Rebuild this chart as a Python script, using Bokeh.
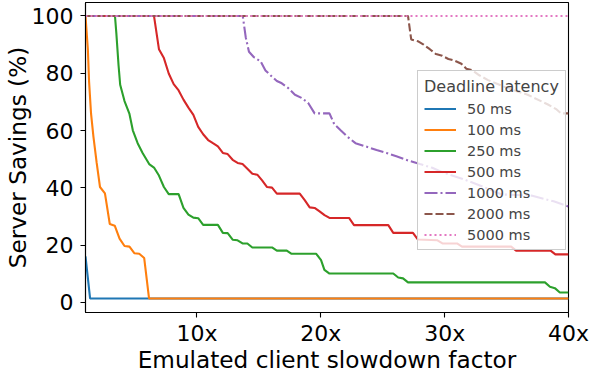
from bokeh.plotting import figure
from bokeh.models import Range1d, FixedTicker, Legend, LegendItem
from bokeh.embed import file_html
from bokeh.resources import INLINE

# ---- data ----
labels = ["50 ms", "100 ms", "250 ms", "500 ms", "1000 ms", "2000 ms", "5000 ms"]

x_50 = [1.0, 1.37, 40.0]
y_50 = [16.1, 1.4, 1.4]

x_100 = [1.0, 1.19, 1.29, 1.45, 1.64, 1.9, 2.17, 2.57, 2.96, 3.36, 3.75, 4.15, 4.55, 4.94, 5.34, 5.74, 6.13, 40.0]
y_100 = [100, 88.4, 77, 65.8, 57.9, 48.8, 40.3, 38.1, 27.4, 26.8, 22.3, 19.7, 19.5, 17.2, 17.0, 15.5, 1.4, 1.4]

x_250 = [1.0, 3.38, 3.49, 3.67, 3.8, 4.15, 4.55, 4.82, 5.21, 5.61, 6.14, 6.53, 6.93, 7.33, 7.72, 8.52, 8.91, 9.31,
         9.71, 10.1, 10.5, 11.69, 12.09, 12.48, 12.88, 13.28, 13.68, 14.07, 14.47, 16.06, 16.45, 17.25, 17.64,
         19.63, 20.02, 20.29, 20.7, 25.85, 26.25, 26.64, 27.04, 38.1, 38.5, 38.9, 39.3, 40.0]
y_250 = [100, 100, 94, 82.7, 76, 70.3, 65.8, 60.1, 55.6, 52.2, 48.3, 47.1, 44.3, 40.3, 37.8, 37.8, 33.0, 30.7,
         29.6, 29.4, 27.1, 27.1, 24.3, 24.2, 21.9, 21.7, 20.6, 20.6, 19.2, 19.2, 18.1, 18.1, 17.0,
         17.0, 14.8, 11.4, 10.1, 10.1, 8.7, 8.4, 7.0, 7.0, 5.5, 5.0, 3.5, 3.5]

x_500 = [1.0, 6.53, 6.93, 7.33, 7.72, 8.12, 8.52, 8.91, 9.31, 9.71, 10.1, 10.5, 10.9, 11.29, 11.69, 12.09, 12.48,
         12.88, 13.28, 13.68, 14.07, 14.47, 14.87, 15.26, 15.66, 16.06, 16.45, 18.3, 18.7, 19.1, 19.5, 19.9, 20.3,
         20.7, 22.28, 22.68, 25.45, 25.85, 27.44, 27.83, 29.42, 29.82, 31.0, 31.4, 35.37, 35.77, 38.55, 38.94, 40.0]
y_500 = [100, 100, 88.4, 85.3, 79.9, 76.2, 74.0, 70.8, 68.0, 65.5, 61.3, 58.7, 56.7, 55.6, 54.5, 52.2, 51.8,
         49.8, 48.7, 48.3, 46.7, 44.9, 44.6, 42.6, 40.3, 40.1, 38.0, 38.0, 35.7, 33.2, 33.0, 31.8, 30.5,
         29.5, 29.5, 27.0, 27.0, 24.3, 24.3, 22.0, 21.7, 20.6, 20.6, 19.5, 19.5, 18.1, 18.1, 16.8, 16.8]

x_1000 = [1.0, 13.7, 13.94, 14.2, 14.6, 15.13, 15.53, 16.06, 16.45, 16.85, 17.38, 17.91, 18.44, 18.97, 19.5, 20.7,
          21.09, 21.6, 22.14, 22.8, 23.6, 24.5, 25.3, 26.1, 27.1, 28.0, 29.0, 29.8, 31.4, 33.0, 34.6, 37.0, 38.8, 40.0]
y_1000 = [100, 100, 92.5, 87.5, 85.6, 84.2, 81.0, 78.8, 77.3, 76.5, 74.8, 72.5, 71.4, 69.7, 66.0, 66.0,
          62.2, 60.1, 57.9, 55.6, 54.5, 53.2, 52.2, 51.0, 49.5, 48.3, 47.0, 45.5, 43.2, 40.6, 37.7, 37.3, 35.3, 33.5]

x_2000 = [1.0, 27.04, 27.3, 27.83, 28.3, 28.8, 29.3, 29.8, 30.3, 30.8, 31.35, 31.75, 32.25, 32.8, 33.5, 35.1,
          36.7, 38.3, 39.0, 39.4, 40.0]
y_2000 = [100, 100, 91.8, 91.2, 90.0, 88.4, 86.7, 86.1, 85.0, 84.4, 83.3, 81.6, 81.0, 79.3, 77.6, 74.8,
          72.5, 69.2, 67.5, 66.0, 66.0]

x_5000 = [1.0, 40.0]
y_5000 = [100, 100]

x_ticks = [10, 20, 30, 40]
x_tick_labels = ["10x", "20x", "30x", "40x"]
y_ticks = [0, 20, 40, 60, 80, 100]

series = [(x_50, y_50), (x_100, y_100), (x_250, y_250), (x_500, y_500),
          (x_1000, y_1000), (x_2000, y_2000), (x_5000, y_5000)]

# ---- styles ----
colors = ["#1f77b4", "#ff7f0e", "#2ca02c", "#d62728", "#9467bd", "#8c564b", "#e377c2"]
dashes = ["solid", "solid", "solid", "solid", "13 3 2 3", "8 3", "2 3"]

FONT = "DejaVu Sans"

p = figure(width=590, height=375, output_backend="svg", toolbar_location=None,
           x_range=Range1d(1, 40), y_range=Range1d(-3.5, 104.7),
           min_border_top=2, min_border_right=22, min_border_left=0, min_border_bottom=0)

p.xgrid.visible = False
p.ygrid.visible = False
p.outline_line_color = "black"
p.outline_line_width = 1.1
p.outline_line_alpha = 1.0

items = []
for (xs, ys), c, d, lab in zip(series, colors, dashes, labels):
    r = p.line(xs, ys, line_color=c, line_width=2.1, line_dash=d)
    items.append(LegendItem(label=lab, renderers=[r]))

for ax in (p.xaxis[0], p.yaxis[0]):
    ax.axis_line_color = "black"
    ax.axis_line_width = 1.1
    ax.major_tick_line_color = "black"
    ax.major_tick_line_width = 1.1
    ax.major_tick_out = 5
    ax.major_tick_in = 0
    ax.minor_tick_line_color = None
    ax.major_label_text_font = FONT
    ax.major_label_text_font_size = "22px"
    ax.major_label_text_color = "black"
    ax.axis_label_text_font = FONT
    ax.axis_label_text_font_size = "23.2px"
    ax.axis_label_text_font_style = "normal"
    ax.axis_label_text_color = "black"

p.xaxis.ticker = FixedTicker(ticks=x_ticks)
p.xaxis.major_label_overrides = {t: s for t, s in zip(x_ticks, x_tick_labels)}
p.xaxis.major_label_standoff = 3
p.xaxis.axis_label_standoff = -3
p.yaxis.ticker = FixedTicker(ticks=y_ticks)
p.yaxis.major_label_standoff = 7
p.yaxis.axis_label_standoff = -2
p.xaxis.axis_label = "Emulated client slowdown factor"
p.yaxis.axis_label = "Server Savings (%)"

legend = Legend(items=items, title="Deadline latency",
                location=(332, 62),
                title_text_font=FONT, title_text_font_size="16px", title_text_font_style="normal",
                label_text_font=FONT, label_text_font_size="14.5px",
                glyph_width=32, glyph_height=17, label_height=17, spacing=4,
                label_standoff=11, padding=6, margin=0, title_standoff=4,
                background_fill_color="white", background_fill_alpha=0.8,
                border_line_color="#cccccc", border_line_width=1, border_line_alpha=1.0)
p.add_layout(legend)

open("out.html", "w").write(file_html(p, INLINE))
